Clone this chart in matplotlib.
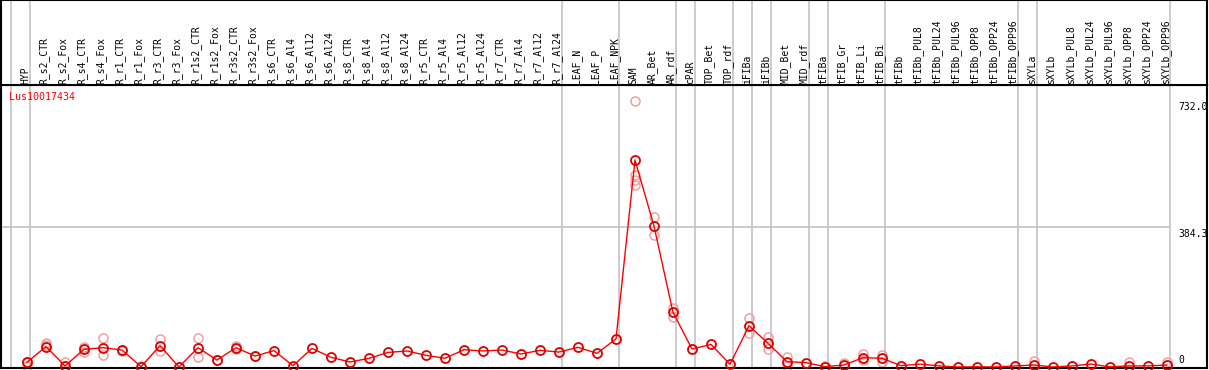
import matplotlib
matplotlib.use("Agg")
import matplotlib.pyplot as plt

categories = ["HYP", "R_s2_CTR", "R_s2_Fox", "R_s4_CTR", "R_s4_Fox", "R_r1_CTR", "R_r1_Fox",
              "R_r3_CTR", "R_r3_Fox", "R_r1s2_CTR", "R_r1s2_Fox", "R_r3s2_CTR", "R_r3s2_Fox",
              "R_s6_CTR", "R_s6_Al4", "R_s6_Al12", "R_s6_Al24", "R_s8_CTR", "R_s8_Al4",
              "R_s8_Al12", "R_s8_Al24", "R_r5_CTR", "R_r5_Al4", "R_r5_Al12", "R_r5_Al24",
              "R_r7_CTR", "R_r7_Al4", "R_r7_Al12", "R_r7_Al24", "LEAF_N", "LEAF_P", "LEAF_NPK",
              "SAM", "AR_Bet", "AR_rdf", "cPAR", "TOP_Bet", "TOP_rdf", "iFIBa", "iFIBb",
              "MID_Bet", "MID_rdf", "tFIBa", "tFIB_Gr", "tFIB_Li", "tFIB_Bi", "tFIBb",
              "tFIBb_PUL8", "tFIBb_PUL24", "tFIBb_PUL96", "tFIBb_OPP8", "tFIBb_OPP24",
              "tFIBb_OPP96", "sXYLa", "sXYLb", "sXYLb_PUL8", "sXYLb_PUL24", "sXYLb_PUL96",
              "sXYLb_OPP8", "sXYLb_OPP24", "sXYLb_OPP96"]

mean_values = [13, 56, 3, 48.6, 53, 46.7, 1, 58.5, 0, 53, 19, 53, 30,
               45, 3.6, 51, 26.6, 13.7, 23.8, 40, 44, 32, 24, 47.5, 44,
               46.7, 35.7, 45.8, 41, 54, 37.6, 77,
               568.6, 387, 150, 49.4, 62, 7.3, 113.5, 65,
               14.6, 12, 1, 5.5, 25.6, 24, 3.6,
               8, 3, 0, 0.5, 0, 3,
               5.5, 0, 3, 8, 0.5, 3, 3, 5.5]

rep_labels = ["HYP", "HYP", "R_s2_CTR", "R_s2_CTR", "R_s2_Fox", "R_s2_Fox",
              "R_s4_CTR", "R_s4_CTR", "R_s4_Fox", "R_s4_Fox", "R_r1_CTR", "R_r1_CTR",
              "R_r1_Fox", "R_r3_CTR", "R_r3_CTR", "R_r3_Fox", "R_r1s2_CTR", "R_r1s2_CTR",
              "R_r1s2_Fox", "R_r3s2_CTR", "R_r3s2_CTR", "R_r3s2_Fox",
              "SAM", "SAM", "SAM", "SAM", "AR_Bet", "AR_Bet", "AR_rdf", "AR_rdf",
              "iFIBa", "iFIBa", "iFIBb", "iFIBb", "MID_Bet", "MID_Bet",
              "tFIBa", "tFIB_Gr", "tFIB_Li", "tFIB_Li", "tFIB_Bi", "tFIB_Bi",
              "sXYLa", "sXYLb_OPP8", "sXYLb_OPP96"]
rep_values = [15, 3, 65, 60, 15, 2,
              56, 40, 80, 33, 48, 45,
              2, 76, 43, 0, 79, 28,
              20, 58, 50, 30,
              732, 527, 514, 500, 413, 362, 161, 136,
              134, 92.5, 81.5, 48.6, 26.6, 3,
              3, 10, 35, 18, 33, 15,
              16, 13, 15]

# separator drawn after each of these columns (None = before the first column)
group_after = [None, "HYP", "R_r7_Al24", "LEAF_NPK", "AR_rdf", "cPAR", "TOP_rdf", "iFIBa",
               "iFIBb", "MID_rdf", "tFIBa", "tFIB_Bi", "tFIBb_OPP96", "sXYLa", "sXYLb_OPP96"]

series_name = "Lus10017434"
ytick_values = [732.0, 384.3, 0]
ytick_labels = ["732.0", "384.3", "0"]

# ---- geometry (pixels) ----
W, H = 1209, 370
DPI = 100
X0, DX = 27.0, 19.0           # pixel x of first column, spacing
Y0PX, YMAXPX, YMAX = 367.0, 100.5, 732.0


def xd(px):
    return (px - X0) / DX


def yd(py):
    return (Y0PX - py) * YMAX / (Y0PX - YMAXPX)


left_px, right_px = 1, 1207
header_bottom_px, bottom_px = 85, 368

fig = plt.figure(figsize=(W / DPI, H / DPI), dpi=DPI)
fig.patch.set_facecolor("white")

ax = fig.add_axes([left_px / W, (H - bottom_px) / H, (right_px - left_px) / W,
                   (bottom_px - header_bottom_px) / H])
hx = fig.add_axes([left_px / W, (H - header_bottom_px) / H, (right_px - left_px) / W,
                   header_bottom_px / H])

xmin, xmax = xd(left_px), xd(right_px)
for a in (ax, hx):
    a.set_xlim(xmin, xmax)
    a.set_xticks([])
    a.set_yticks([])
    for s in a.spines.values():
        s.set_color("black")
        s.set_linewidth(1.5)

ax.set_ylim(yd(bottom_px), yd(header_bottom_px))
hx.set_ylim(header_bottom_px, 0)

grid_col = "#c4c4c4"
mono = "DejaVu Sans Mono"

# group separators
for name in group_after:
    idx = -1 if name is None else categories.index(name)
    xv = idx + 3.0 / DX
    ax.axvline(xv, color=grid_col, lw=1.2, zorder=1)
    hx.axvline(xv, color=grid_col, lw=1.2, zorder=1)

# horizontal grid line at mid value
ax.hlines(ytick_values[1], xmin, categories.index("sXYLb_OPP96") + 3.0 / DX,
          color=grid_col, lw=1.2, zorder=1)

# column labels
for i, name in enumerate(categories):
    hx.text(i - 0.1, 83.5, name, rotation=90, ha="center", va="bottom",
            fontsize=7, family=mono, color="black")

# replicate points
rep_x = [categories.index(n) for n in rep_labels]
ax.plot(rep_x, rep_values, linestyle="none", marker="o", markersize=6.5,
        markerfacecolor="none", markeredgecolor="#f0a0a0", markeredgewidth=1.1,
        zorder=2, clip_on=False)

# mean series
xs = list(range(len(categories)))
ax.plot(xs, mean_values, color="red", lw=1, zorder=3, clip_on=False)
ax.plot(xs, mean_values, linestyle="none", marker="o", markersize=6.5,
        markerfacecolor="none", markeredgecolor="#dd0000", markeredgewidth=1.3,
        zorder=4, clip_on=False)

# series name
ax.text(xd(9), yd(92), series_name, ha="left", va="top", fontsize=7.2,
        family=mono, color="red")

# right-side value labels
ax.text(xd(1178), yd(102), ytick_labels[0], ha="left", va="top", fontsize=7,
        family=mono, color="black", clip_on=True)
ax.text(xd(1178), yd(228.5), ytick_labels[1], ha="left", va="top", fontsize=7,
        family=mono, color="black", clip_on=True)
ax.text(xd(1178), yd(365), ytick_labels[2], ha="left", va="bottom", fontsize=7,
        family=mono, color="black", clip_on=True)

fig.savefig("out.png", dpi=DPI)
